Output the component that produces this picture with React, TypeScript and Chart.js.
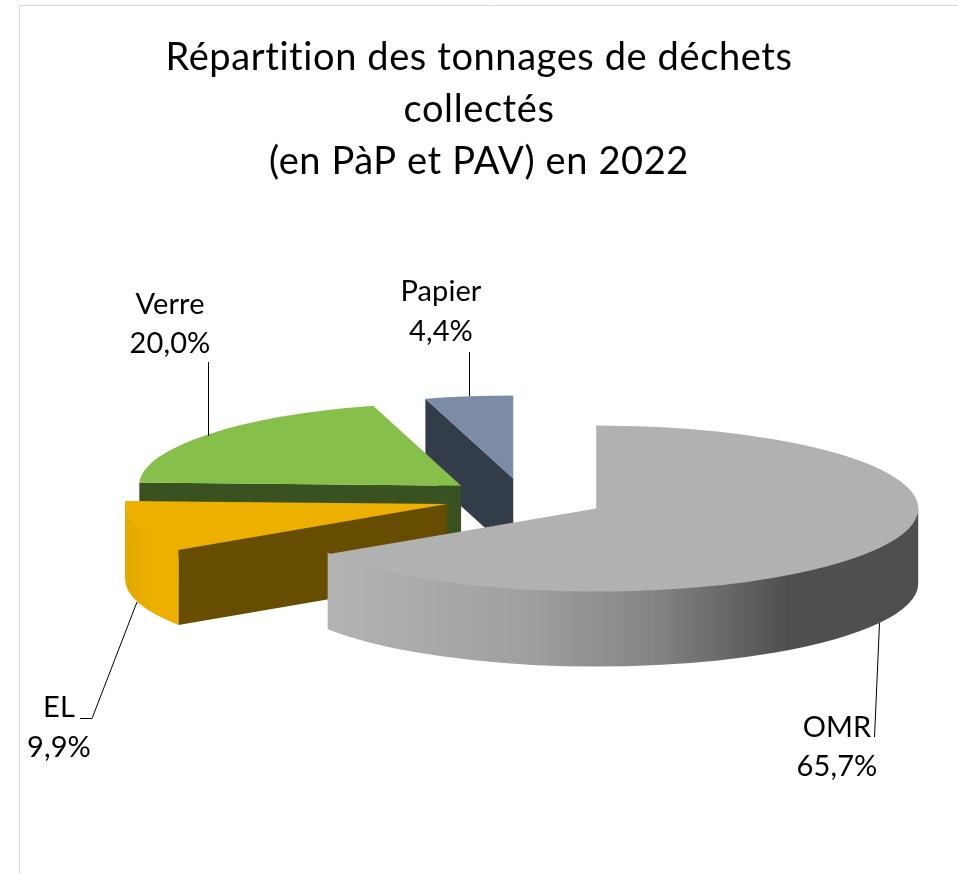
import React, { useEffect, useRef } from "react";
import { Chart, registerables } from "chart.js";

Chart.register(...registerables);

const categories = ["OMR", "EL", "Verre", "Papier"];
const shares = [65.7, 9.9, 20.0, 4.4];
const explosions = [82, 80, 80, 78];
const topColors = ["#B1B1B1", "#EEB000", "#86C04A", "#7C8BA6"];
const cutColors = ["#4D4D4D", "#664D00", "#3A5120", "#333D4A"];
const titleLines = ["Répartition des tonnages de déchets", "collectés", "(en PàP et PAV) en 2022"];
const paintOrder = [3, 2, 1, 0];

const FONT = "Lato, Carlito, Calibri, sans-serif";
const TILT = 0.258;
const DEPTH = 75;
const RADIUS = 322;
const SHIFT_X = 45;

const wallStops: Record<number, [number, string][]> = {
  0: [[0, "#B3B3B3"], [0.33, "#A0A0A0"], [0.55, "#858585"], [0.78, "#4F4F4F"], [1, "#4F4F4F"]],
  1: [[0, "#E2A900"], [0.6, "#EEB000"], [1, "#EEB000"]],
  2: [[0, "#3A5120"], [1, "#3A5120"]],
  3: [[0, "#333D4A"], [1, "#333D4A"]],
};

const labelPlaces: Record<string, [number, number, number]> = {
  OMR: [837, 728, 767],
  EL: [59, 708, 748],
  Verre: [170, 305, 344],
  Papier: [441, 292, 332],
};
const leaders: [number, number][][] = [
  [[879.5, 623], [874.5, 737]],
  [[137, 602], [92, 718.5], [80, 718.5]],
  [[208.5, 362], [208.5, 436]],
  [[469.5, 352], [469.5, 396]],
];

const pie3d = {
  id: "pie3d",
  beforeDraw(chart: any) {
    const { ctx, width, height } = chart;
    ctx.letterSpacing = "0.6px";
    ctx.save();
    ctx.strokeStyle = "#D9D9D9";
    ctx.lineWidth = 1;
    ctx.beginPath();
    ctx.moveTo(19.5, height);
    ctx.lineTo(19.5, 5.5);
    ctx.lineTo(width, 5.5);
    ctx.stroke();
    ctx.restore();
  },
  beforeDatasetDraw(chart: any) {
    const { ctx } = chart;
    const arcs = chart.getDatasetMeta(0).data;
    for (const i of paintOrder) {
      const arc = arcs[i];
      const { startAngle: a, endAngle: b, outerRadius: r } = arc;
      const mid = (a + b) / 2;
      const X = arc.x + SHIFT_X + Math.cos(mid) * explosions[i];
      const Y = arc.y + Math.sin(mid) * explosions[i] * TILT;
      const ry = r * TILT;

      // Cut faces that look towards the viewer
      ctx.fillStyle = cutColors[i];
      const cutFace = (t: number) => {
        const px = X + Math.cos(t) * r;
        const py = Y + Math.sin(t) * ry;
        ctx.beginPath();
        ctx.moveTo(X, Y);
        ctx.lineTo(px, py);
        ctx.lineTo(px, py + DEPTH);
        ctx.lineTo(X, Y + DEPTH);
        ctx.closePath();
        ctx.fill();
      };
      if (Math.cos(a) < -1e-6) cutFace(a);
      if (Math.cos(b) > 1e-6) cutFace(b);

      // Outer wall: the part of the rim on the front half of the ellipse
      const lo = Math.max(a, 0);
      const hi = Math.min(b, Math.PI);
      if (hi > lo) {
        const x0 = X + Math.cos(hi) * r;
        const x1 = X + Math.cos(lo) * r;
        const g = ctx.createLinearGradient(x0, 0, x1, 0);
        for (const [p, c] of wallStops[i]) g.addColorStop(p, c);
        ctx.fillStyle = g;
        ctx.beginPath();
        ctx.ellipse(X, Y - 1.5, r, ry, 0, lo, hi);
        ctx.lineTo(x0, Y + Math.sin(hi) * ry + DEPTH);
        ctx.ellipse(X, Y + DEPTH, r, ry, 0, hi, lo, true);
        ctx.closePath();
        ctx.fill();
      }

      // Top face: the library's own arc, seen at a tilt
      ctx.save();
      ctx.translate(X, Y);
      ctx.scale(1, TILT);
      ctx.translate(-arc.x, -arc.y);
      arc.draw(ctx);
      ctx.restore();
    }
    return false;
  },
  afterDraw(chart: any) {
    const { ctx } = chart;
    ctx.save();
    ctx.letterSpacing = "0.1px";
    ctx.strokeStyle = "#000000";
    ctx.lineWidth = 1;
    for (const pts of leaders) {
      ctx.beginPath();
      pts.forEach(([x, y], n) => (n ? ctx.lineTo(x, y) : ctx.moveTo(x, y)));
      ctx.stroke();
    }
    ctx.fillStyle = "#000000";
    ctx.font = `29px ${FONT}`;
    ctx.textAlign = "center";
    ctx.textBaseline = "middle";
    categories.forEach((name, i) => {
      const [x, y1, y2] = labelPlaces[name];
      ctx.fillText(name, x, y1);
      ctx.fillText(shares[i].toFixed(1).replace(".", ",") + "%", x, y2);
    });
    ctx.restore();
  },
};

export default function App() {
  const ref = useRef<HTMLCanvasElement>(null);
  useEffect(() => {
    const chart = new Chart(ref.current as HTMLCanvasElement, {
      type: "pie",
      data: {
        labels: categories,
        datasets: [
          {
            data: shares,
            backgroundColor: topColors,
            borderWidth: 0,
            radius: RADIUS,
          } as any,
        ],
      },
      options: {
        responsive: false,
        animation: false,
        layout: { padding: { bottom: 65 } },
        plugins: {
          legend: { display: false },
          tooltip: { enabled: false },
          title: {
            display: true,
            text: titleLines,
            color: "#000000",
            font: { family: FONT, size: 38, weight: "normal", lineHeight: 52 / 38 },
            padding: { top: 32, bottom: 0 },
          },
        },
      },
      plugins: [pie3d],
    } as any);
    return () => chart.destroy();
  }, []);
  return (
    <canvas
      ref={ref}
      width={958}
      height={874}
      style={{ position: "fixed", left: 0, top: 0, width: 958, height: 874 }}
    />
  );
}
